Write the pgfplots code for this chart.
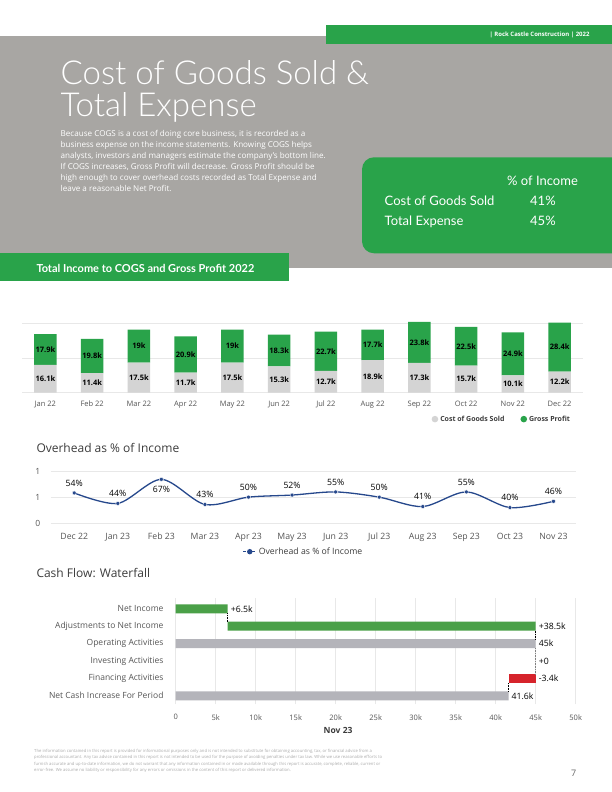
\documentclass[border=0pt]{standalone}
\usepackage{fontspec}
\setmainfont{Open Sans}
\newfontfamily\lato{Lato}
\IfFontExistsTF{Lato Light}{\newfontfamily\latolight{Lato Light}}{\newfontfamily\latolight{Lato}}
\usepackage{pgfplots}
\usepackage{pgfplotstable}
\pgfplotsset{compat=1.18}
\pgfplotsset{/pgf/number format/assume math mode=true}

\definecolor{bandgray}{RGB}{168,166,163}
\definecolor{brandgreen}{RGB}{41,163,74}
\definecolor{cogsgray}{RGB}{212,212,212}
\definecolor{lineblue}{RGB}{38,72,140}
\definecolor{wfgreen}{RGB}{74,160,72}
\definecolor{wfgray}{RGB}{180,180,186}
\definecolor{wfred}{RGB}{214,35,43}
\definecolor{txtgray}{RGB}{85,85,85}
\definecolor{titlegray}{RGB}{60,60,60}
\definecolor{gridgray}{RGB}{232,232,232}

% income split per month (k)
\pgfplotstableread{
x cogs gp
0 16.1 17.9
1 11.4 19.8
2 17.5 19
3 11.7 20.9
4 17.5 19
5 15.3 18.3
6 12.7 22.7
7 18.9 17.7
8 17.3 23.8
9 15.7 22.5
10 10.1 24.9
11 12.2 28.4
}\incomedata

% overhead as % of income, dy = label offset
\pgfplotstableread{
x pct dy
0 54 10
1 44 10
2 67 -10
3 43 10
4 50 10
5 52 10
6 55 10
7 50 10
8 41 10
9 55 10
10 40 10
11 46 10
}\overheaddata

% cash flow waterfall (k), rows from bottom
\pgfplotstableread{
y base grn gry red end lab
5 0 6.5 0 0 6.5 {+6.5k}
4 6.5 38.5 0 0 45 {+38.5k}
3 0 0 45 0 45 {45k}
2 45 0 0 0 45 {+0}
1 41.6 0 0 3.4 45 {-3.4k}
0 0 0 41.6 0 41.6 {41.6k}
}\cashdata

\begin{document}
\begin{tikzpicture}[x=1pt,y=1pt]
\useasboundingbox (0,0) rectangle (612,792);
\fill[white] (0,0) rectangle (612,792);

% header band
\fill[bandgray] (0,524.3) rectangle (612,756);
\fill[brandgreen] (325.5,748) rectangle (612,767);
\node[anchor=east, text=white, font=\bfseries\fontsize{6}{7}\selectfont] at (593,757.5) {| Rock Castle Construction | 2022};

\node[anchor=base west, inner sep=0, text=white, font=\latolight\fontsize{33}{33}\selectfont] at (60.5,707) {Cost of Goods Sold \&};
\node[anchor=base west, inner sep=0, text=white, font=\latolight\fontsize{33}{33}\selectfont] at (60.5,675.3) {Total Expense};

\node[anchor=north west, inner sep=0, text=white, align=left, font=\fontsize{8.1}{11}\selectfont] at (60.5,661.5) {%
Because COGS is a cost of doing core business, it is recorded as a\\
business expense on the income statements. Knowing COGS helps\\
analysts, investors and managers estimate the company's bottom line.\\
If COGS increases, Gross Profit will decrease. Gross Profit should be\\
high enough to cover overhead costs recorded as Total Expense and\\
leave a reasonable Net Profit.};

\fill[brandgreen, rounded corners=12pt] (362,538.7) rectangle (640,634.7);
\begin{scope}[every node/.style={inner sep=0, text=white, font=\lato\fontsize{13}{13}\selectfont}]
\node[anchor=base west] at (507,606) {\% of Income};
\node[anchor=base west] at (384.5,586) {Cost of Goods Sold};
\node[anchor=base west] at (530,586) {41\%};
\node[anchor=base west] at (384.5,566.7) {Total Expense};
\node[anchor=base west] at (530,566.7) {45\%};
\end{scope}

\fill[brandgreen] (0,511) rectangle (289,538.7);
\node[anchor=west, inner sep=0, text=white, font=\lato\bfseries\fontsize{11}{11}\selectfont] at (36.3,523.5) {Total Income to COGS and Gross Profit 2022};

% ---- stacked bars
\begin{axis}[
  at={(22pt,399.3pt)}, anchor=south west, scale only axis,
  width=561pt, height=71.05pt, clip=false,
  xmin=-0.5, xmax=11.5, ymin=0, ymax=41.2,
  ybar stacked, bar width=22.7pt,
  axis line style={draw=none}, tick style={draw=none},
  ytick={0,20,40}, yticklabels={}, ymajorgrids,
  grid style={gridgray, line width=0.7pt},
  xtick={0,...,11},
  xticklabels={Jan 22,Feb 22,Mar 22,Apr 22,May 22,Jun 22,Jul 22,Aug 22,Sep 22,Oct 22,Nov 22,Dec 22},
  xticklabel style={font=\fontsize{7.5}{9}\selectfont, text=txtgray, yshift=-4.5pt},
  legend columns=2,
  legend style={draw=none, fill=none, at={(0.986,-0.372)}, anchor=east,
    font=\bfseries\fontsize{7}{8}\selectfont, text=titlegray,
    /tikz/every even column/.append style={column sep=14pt}},
  nodes near coords={\pgfmathprintnumber[fixed,precision=1]{\pgfplotspointmeta}k},
  every node near coord/.append style={font=\bfseries\fontsize{7.5}{9}\selectfont, text=black, anchor=center},
]
\addplot[fill=cogsgray, draw=none, point meta=\thisrow{cogs},
  legend image code/.code={\fill[cogsgray] (4pt,0pt) circle (3.3pt);}]
  table[x=x, y=cogs] {\incomedata};
\addlegendentry{Cost of Goods Sold}
\addplot[fill=brandgreen, draw=none, point meta=\thisrow{gp},
  legend image code/.code={\fill[brandgreen] (4pt,0pt) circle (3.3pt);}]
  table[x=x, y=gp] {\incomedata};
\addlegendentry{Gross Profit}
\end{axis}

\node[anchor=west, inner sep=0, text=titlegray, font=\fontsize{12}{12}\selectfont] at (36.3,343.7) {Overhead as \% of Income};

% ---- overhead line
\begin{axis}[
  at={(50.7pt,268.7pt)}, anchor=south west, scale only axis,
  width=525pt, height=52.3pt, clip=false,
  xmin=-0.54, xmax=11.51, ymin=0.25, ymax=0.75,
  axis line style={draw=none}, tick style={draw=none},
  ytick={0.25,0.5,0.75}, yticklabels={0,1,1}, ymajorgrids,
  grid style={gridgray, line width=0.7pt},
  yticklabel style={font=\fontsize{8.5}{9}\selectfont, text=txtgray, xshift=-7pt},
  xtick={0,...,11},
  xticklabels={Dec 22,Jan 23,Feb 23,Mar 23,Apr 23,May 23,Jun 23,Jul 23,Aug 23,Sep 23,Oct 23,Nov 23},
  xticklabel style={font=\fontsize{8.7}{9}\selectfont, text=txtgray, yshift=-6pt},
  legend style={draw=none, fill=none, at={(0.4815,-0.543)}, anchor=center,
    font=\fontsize{8.7}{9}\selectfont, text=titlegray},
]
\addplot[smooth, lineblue, line width=1.3pt, mark=*,
  mark options={fill=lineblue, draw=white, line width=0.4pt}, mark size=2pt,
  point meta=\thisrow{pct},
  nodes near coords={\pgfmathprintnumber{\pgfplotspointmeta}\%},
  visualization depends on={\thisrow{dy} \as \dy},
  every node near coord/.append style={font=\fontsize{8.7}{9}\selectfont, text=black, anchor=center, yshift={\dy*1pt}},
  legend image code/.code={\draw[lineblue, line width=1.1pt, dash pattern=on 3pt off 1.5pt] (0pt,0pt) -- (13pt,0pt); \fill[lineblue] (6.5pt,0pt) circle (2pt);}]
  table[x=x, y expr=\thisrow{pct}/100] {\overheaddata};
\addlegendentry{Overhead as \% of Income}
\end{axis}

\node[anchor=west, inner sep=0, text=titlegray, font=\fontsize{12}{12}\selectfont] at (36.3,219) {Cash Flow: Waterfall};

% ---- waterfall
\begin{axis}[
  at={(175.7pt,87.5pt)}, anchor=south west, scale only axis,
  width=400pt, height=106.14pt, clip=false,
  xmin=0, xmax=50, ymin=-0.5, ymax=5.6,
  xbar stacked, bar width=9pt,
  axis line style={draw=none}, tick style={draw=none},
  xtick={0,5,...,50},
  xticklabels={0,5k,10k,15k,20k,25k,30k,35k,40k,45k,50k},
  xticklabel style={font=\fontsize{7.5}{9}\selectfont, text=txtgray, yshift=-6.3pt},
  xmajorgrids, grid style={gridgray, line width=0.7pt},
  ytick={0,...,5},
  yticklabels={Net Cash Increase For Period,Financing Activities,Investing Activities,Operating Activities,Adjustments to Net Income,Net Income},
  yticklabel style={font=\fontsize{8.5}{9}\selectfont, text=txtgray, xshift=-8.7pt},
  xlabel={Nov 23},
  every axis x label/.style={at={(axis description cs:0.406,0)}, anchor=north, inner sep=0pt, yshift=-22.5pt,
    font=\bfseries\fontsize{8.5}{9}\selectfont, text=titlegray},
]
\addplot[draw=none, fill=none, forget plot] table[x=base, y=y] {\cashdata};
\addplot[fill=wfgreen, draw=none, forget plot] table[x=grn, y=y] {\cashdata};
\addplot[fill=wfgray, draw=none, forget plot] table[x=gry, y=y] {\cashdata};
\addplot[fill=wfred, draw=none, forget plot] table[x=red, y=y] {\cashdata};
\end{axis}
% waterfall connectors and value labels
\begin{axis}[
  at={(175.7pt,87.5pt)}, anchor=south west, scale only axis,
  width=400pt, height=106.14pt, hide axis, clip=false,
  xmin=0, xmax=50, ymin=-0.5, ymax=5.6,
]
\addplot[black, densely dotted, line width=0.6pt] coordinates {(6.5,4.74) (6.5,4.26)};
\addplot[black, densely dotted, line width=0.6pt] coordinates {(45,3.74) (45,3.26)};
\addplot[black!50, densely dotted, line width=0.6pt] coordinates {(45,2.74) (45,1.26)};
\addplot[black, densely dotted, line width=0.6pt] coordinates {(41.6,0.74) (41.6,0.26)};
\addplot[only marks, mark=none, nodes near coords, point meta=explicit symbolic,
  every node near coord/.append style={anchor=west, inner sep=0pt, xshift=3pt, font=\fontsize{8.7}{9}\selectfont, text=black}]
  table[x=end, y=y, meta=lab] {\cashdata};
\end{axis}

% footer
\node[anchor=north west, inner sep=0, align=left, text=black!33, font=\fontsize{4.2}{6.4}\selectfont] at (34,43) {%
The information contained in this report is provided for informational purposes only and is not intended to substitute for obtaining accounting, tax, or financial advice from a\\
professional accountant. Any tax advice contained in this report is not intended to be used for the purpose of avoiding penalties under tax law. While we use reasonable efforts to\\
furnish accurate and up-to-date information, we do not warrant that any information contained in or made available through this report is accurate, complete, reliable, current or\\
error-free. We assume no liability or responsibility for any errors or omissions in the content of this report or delivered information.};
\node[text=black!60, font=\fontsize{9}{9}\selectfont] at (573.8,18.7) {7};
\end{tikzpicture}
\end{document}
